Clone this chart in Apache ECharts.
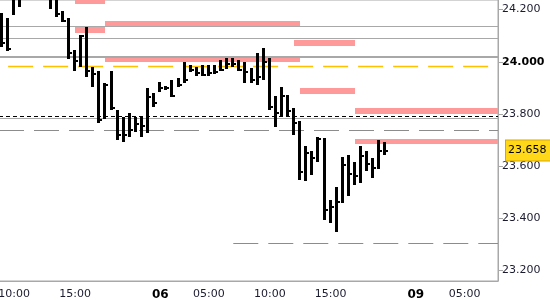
<!DOCTYPE html>
<html><head><meta charset="utf-8">
<script src="https://cdn.jsdelivr.net/npm/echarts@6/dist/echarts.min.js"></script>
<style>html,body{margin:0;padding:0;background:#fff}#c{width:550px;height:300px}</style>
</head><body><div id="c"></div><script>
// 30-minute slots (day hh:mm)
const categories = [
'05 09:00','05 09:30','05 10:00','05 10:30','05 11:00','05 11:30','05 12:00','05 12:30','05 13:00','05 13:30','05 14:00','05 14:30','05 15:00','05 15:30','05 16:00','05 16:30','05 17:00','05 17:30','05 18:00','05 18:30','05 19:00','05 19:30','05 20:00','05 20:30','05 21:00','05 21:30',
'06 01:00','06 01:30','06 02:00','06 02:30','06 03:00','06 03:30','06 04:00','06 04:30','06 05:00','06 05:30','06 06:00','06 06:30','06 07:00','06 07:30','06 08:00','06 08:30','06 09:00','06 09:30','06 10:00','06 10:30','06 11:00','06 11:30','06 12:00','06 12:30','06 13:00','06 13:30','06 14:00','06 14:30','06 15:00','06 15:30','06 16:00','06 16:30','06 17:00','06 17:30','06 18:00','06 18:30','06 19:00','06 19:30','06 20:00','06 20:30','06 21:00','06 21:30',
'09 01:00','09 01:30','09 02:00','09 02:30','09 03:00','09 03:30','09 04:00','09 04:30','09 05:00','09 05:30','09 06:00','09 06:30','09 07:00','09 07:30'
];
const tickSlots  = ['05 10:00','05 15:00','05 20:00','06 01:00','06 05:00','06 10:00','06 15:00','06 20:00','09 01:00','09 05:00'];
const labelSlots = ['05 10:00','05 15:00','06 01:00','06 05:00','06 10:00','06 15:00','09 01:00','09 05:00'];
const dayStartTime = '01:00';
const yTicks = [23.2, 23.4, 23.6, 23.8, 24.0, 24.2];

// OHLC bars (first bar at firstBarSlot, consecutive slots)
const firstBarSlot = '05 09:00';
const highs  = [24.188,24.167,24.300,24.300,24.320,24.330,24.320,24.310,24.300,24.245,24.193,24.168,24.045,24.104,24.134,23.981,23.965,23.917,23.965,23.815,23.789,23.805,23.789,23.789,23.898,23.879,23.924,23.907,23.930,23.937,24.000,23.988,23.981,23.988,23.988,23.988,24.007,24.016,24.016,24.007,24.000,23.975,24.035,24.052,24.013,23.869,23.902,23.873,23.822,23.773,23.677,23.658,23.710,23.707,23.470,23.519,23.634,23.643,23.617,23.677,23.658,23.632,23.700,23.694];
const lows   = [24.058,24.042,24.180,24.209,24.250,24.260,24.260,24.250,24.201,24.170,24.154,24.009,23.966,23.981,23.943,23.902,23.767,23.780,23.815,23.700,23.694,23.713,23.732,23.713,23.728,23.825,23.885,23.892,23.866,23.902,23.920,23.962,23.947,23.945,23.945,23.953,23.966,23.971,23.981,23.966,23.920,23.920,23.911,23.930,23.815,23.751,23.792,23.792,23.719,23.547,23.543,23.566,23.617,23.394,23.383,23.349,23.460,23.485,23.528,23.536,23.582,23.556,23.588,23.643];
const closes = [24.073,24.048,24.250,24.260,24.290,24.300,24.290,24.280,24.250,24.183,24.158,24.032,24.002,24.100,23.965,23.953,23.777,23.911,23.822,23.719,23.720,23.740,23.760,23.754,23.865,23.842,23.899,23.900,23.870,23.910,23.930,23.968,23.955,23.950,23.956,23.960,23.970,23.990,23.990,23.970,23.962,23.930,23.940,24.000,23.825,23.802,23.869,23.811,23.765,23.579,23.649,23.630,23.703,23.430,23.444,23.464,23.604,23.570,23.562,23.639,23.608,23.592,23.659,23.658];

// shaded price zones: [fromSlot, toSlot (null = chart edge), low, high]
const zones = [
  ['05 15:00','05 17:30',24.221,24.240],
  ['05 15:00','05 17:30',24.111,24.134],
  ['05 17:30','06 12:30',24.137,24.156],
  ['05 17:30','06 12:30',24.000,24.016],
  ['06 12:00','06 17:00',24.062,24.085],
  ['06 12:30','06 17:00',23.878,23.898],
  ['06 17:00',null,23.801,23.824],
  ['06 17:00',null,23.685,23.703]
];
// horizontal levels: [fromSlot (null = edge), toSlot (null = edge), value]
const grayLevels   = [[null,null,24.136],[null,null,24.090],[null,null,23.784]];
const thickLevels  = [[null,null,24.018]];
const blackDashed  = [[null,null,23.792]];
const grayDashed   = [[null,null,23.735],['06 07:00',null,23.304]];
const orangeDashed = [['05 09:30','09 07:00',23.983]];

const yMin = 23.1597, yMax = 24.2367;

const idx = s => s === null ? -1 : categories.indexOf(s);
const bar0 = categories.indexOf(firstBarSlot);
const barData = highs.map((h, i) => [bar0 + i, h, lows[i], closes[i]]);
const zoneData = zones.map(z => [idx(z[0]), idx(z[1]), z[2], z[3]]);
const lvl = arr => arr.map(l => [idx(l[0]), idx(l[1]), l[2]]);
const lastClose = closes[closes.length - 1];
const lastIdx = bar0 + closes.length - 1;

function levelSeries(data, color, width, dash) {
  return {
    type: 'custom', clip: true, silent: true, z: 3, data: lvl(data),
    renderItem: (params, api) => {
      const cs = params.coordSys;
      const s = api.value(0), e = api.value(1), v = api.value(2);
      const y = api.coord([0, v])[1];
      const x1 = s < 0 ? cs.x : api.coord([s, v])[0];
      const x2 = e < 0 ? cs.x + cs.width : api.coord([e, v])[0];
      const yy = width % 2 ? Math.round(y - 0.5) + 0.5 : Math.round(y);
      return { type: 'line', shape: { x1: x1, y1: yy, x2: x2, y2: yy },
        style: { stroke: color, lineWidth: width, lineDash: dash || null } };
    }
  };
}

const chart = echarts.init(document.getElementById('c'), null, { renderer: 'canvas' });
const lblFont = 'DejaVu Sans';
chart.setOption({
  animation: false,
  backgroundColor: '#fff',
  grid: { left: -1, right: 52, top: 0, bottom: 19, show: true, borderColor: '#a8a8a8', borderWidth: 1,
          backgroundColor: 'transparent', containLabel: false, outerBoundsMode: 'none' },
  xAxis: {
    type: 'category', data: categories, boundaryGap: true,
    axisLine: { lineStyle: { color: '#a8a8a8' } },
    axisTick: { alignWithLabel: true, length: 4, lineStyle: { color: '#a8a8a8' }, interval: (i, v) => tickSlots.includes(v) },
    axisLabel: {
      interval: (i, v) => labelSlots.includes(v), margin: 8,
      fontFamily: lblFont, fontSize: 11, color: '#1b1b30',
      formatter: v => { const p = v.split(' '); return p[1] === dayStartTime ? '{d|' + p[0] + '}' : p[1]; },
      rich: { d: { fontWeight: 'bold', fontSize: 12, color: '#000', fontFamily: lblFont } }
    },
    splitLine: { show: false }
  },
  yAxis: {
    type: 'value', position: 'right', min: yMin, max: yMax, scale: true,
    axisLine: { show: true, lineStyle: { color: '#a8a8a8' } },
    axisTick: { show: true, length: 5, lineStyle: { color: '#a8a8a8' }, customValues: yTicks },
    axisLabel: {
      customValues: yTicks, margin: 4, fontFamily: lblFont, fontSize: 11, color: '#1b1b30',
      formatter: v => Math.abs(v - Math.round(v)) < 1e-9 ? '{b|' + v.toFixed(3) + '}' : v.toFixed(3),
      rich: { b: { fontWeight: 'bold', fontFamily: lblFont, fontSize: 11, color: '#000' } }
    },
    splitLine: { show: false }
  },
  series: [
    {
      type: 'custom', clip: true, silent: true, z: 2, data: zoneData,
      renderItem: (params, api) => {
        const cs = params.coordSys;
        const s = api.value(0), e = api.value(1);
        const top = api.coord([s, api.value(3)]);
        const bot = api.coord([s, api.value(2)]);
        const x2 = e < 0 ? cs.x + cs.width : api.coord([e, api.value(2)])[0];
        const x1 = Math.round(top[0]), y1 = Math.round(top[1]), y2 = Math.round(bot[1]);
        return { type: 'rect', shape: { x: x1, y: y1, width: Math.round(x2) - x1, height: y2 - y1 }, style: { fill: '#FF9A9A' } };
      }
    },
    levelSeries(grayLevels, '#a8a8a8', 1),
    levelSeries(thickLevels, '#a8a8a8', 2),
    levelSeries(blackDashed, '#000000', 1, [4, 3]),
    levelSeries(grayDashed, '#8c8c8c', 1, [25, 10]),
    levelSeries(orangeDashed, '#FFC000', 1.5, [25, 10]),
    {
      type: 'custom', clip: true, silent: true, z: 5, data: barData,
      renderItem: (params, api) => {
        const i = api.value(0);
        const hi = api.coord([i, api.value(1)]);
        const lo = api.coord([i, api.value(2)]);
        const c = api.coord([i, api.value(3)]);
        const cx = Math.round(hi[0]);
        const yt = Math.round(hi[1]), yb = Math.round(lo[1]);
        return { type: 'group', children: [
          { type: 'rect', shape: { x: cx - 2, y: yt, width: 3, height: Math.max(1, yb - yt) }, style: { fill: '#000' } },
          { type: 'rect', shape: { x: cx + 1, y: Math.round(c[1]) - 1, width: 2, height: 2 }, style: { fill: '#000' } }
        ] };
      }
    },
    {
      type: 'line', data: [[lastIdx, lastClose]], silent: true, clip: false, z: 10,
      symbol: 'none', showSymbol: false, lineStyle: { color: 'rgba(0,0,0,0)', width: 0 },
      markLine: {
        silent: true, symbol: ['none', 'none'], animation: false,
        lineStyle: { color: 'rgba(0,0,0,0)', width: 0, opacity: 1 },
        data: [{ yAxis: lastClose }],
        label: {
          show: true, position: 'end', distance: 8, opacity: 1,
          formatter: () => lastClose.toFixed(3),
          fontFamily: lblFont, fontSize: 11, color: '#000',
          backgroundColor: '#FFD81A', borderColor: '#D9A800', borderWidth: 1,
          padding: [5, 12, 4, 2]
        }
      }
    }
  ]
});
</script></body></html>
